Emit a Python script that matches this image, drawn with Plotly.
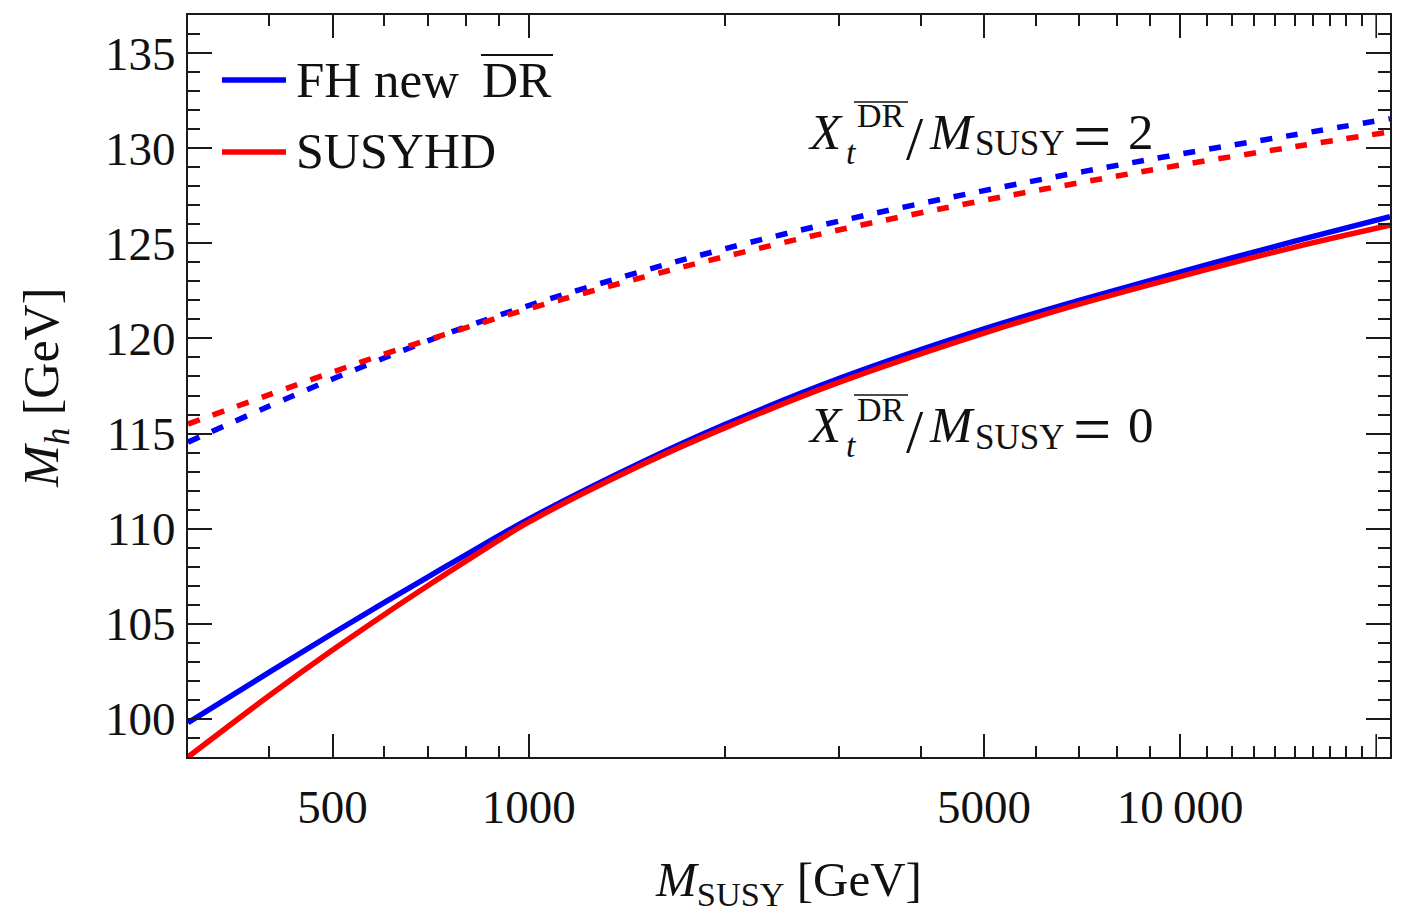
import numpy as np
import plotly.graph_objects as go

# SUSY scale grid (GeV)
m_susy = [300, 400, 500, 600, 700, 800, 1000, 1500, 2000, 3000, 5000, 7000, 10000, 15000, 21000]

# Light Higgs mass predictions (GeV)
fh_xt0 = [99.8, 102.46, 104.49, 106.11, 107.46, 108.61, 110.5, 113.53, 115.47, 117.9, 120.5, 122.0, 123.49, 125.11, 126.4]
susyhd_xt0 = [98.0, 101.23, 103.62, 105.48, 107.0, 108.28, 110.34, 113.4, 115.3, 117.7, 120.28, 121.8, 123.25, 124.8, 125.95]
fh_xt2 = [114.55, 116.45, 117.87, 118.97, 119.87, 120.6, 121.73, 123.55, 124.71, 126.17, 127.77, 128.73, 129.69, 130.71, 131.55]
susyhd_xt2 = [115.5, 117.05, 118.23, 119.17, 119.92, 120.55, 121.56, 123.22, 124.3, 125.71, 127.26, 128.18, 129.11, 130.08, 130.86]

x_major = [500, 1000, 5000, 10000]
x_major_text = ["500", "1000", "5000", "10\u2009000"]
x_minor = [400, 600, 700, 800, 900, 2000, 3000, 4000, 6000, 7000, 8000, 9000] + list(range(11000, 20000, 1000))
x_major_unlabeled = [20000]

BLUE = "#0000ff"
RED = "#ff0000"
INK = "#1a1a1a"
FONT = "Liberation Serif, Tinos, DejaVu Serif, serif"

W, H = 1408, 917
ML, MR, MT, MB = 188, 18, 15, 160
PW, PH = W - ML - MR, H - MT - MB


def px(x):
    return (x - ML) / PW


def py(y):
    return (H - MB - y) / PH


fig = go.Figure()

line_w = 5.5
dash = "12px,14px"
fig.add_trace(go.Scatter(x=m_susy, y=fh_xt2, mode="lines", line=dict(color=BLUE, width=line_w, dash=dash, shape="spline"), showlegend=False))
fig.add_trace(go.Scatter(x=m_susy, y=susyhd_xt2, mode="lines", line=dict(color=RED, width=line_w, dash=dash, shape="spline"), showlegend=False))
fig.add_trace(go.Scatter(x=m_susy, y=fh_xt0, mode="lines", line=dict(color=BLUE, width=line_w, shape="spline"), showlegend=False))
fig.add_trace(go.Scatter(x=m_susy, y=susyhd_xt0, mode="lines", line=dict(color=RED, width=line_w, shape="spline"), showlegend=False))

axis_common = dict(
    showline=True, linecolor=INK, linewidth=2, mirror="ticks",
    ticks="inside", tickcolor=INK, tickwidth=1.6,
    showgrid=False, zeroline=False,
    tickfont=dict(family=FONT, size=47, color="#111"),
)

fig.update_xaxes(
    type="log", range=[np.log10(300), np.log10(21000)],
    tickmode="array", tickvals=x_major, ticktext=x_major_text,
    ticklen=23, ticklabelstandoff=8,
    minor=dict(tickmode="array", tickvals=x_minor, ticks="inside", ticklen=11,
               tickcolor=INK, tickwidth=1.6, showgrid=False),
    **axis_common,
)
fig.update_yaxes(
    range=[98, 137], tickmode="linear", tick0=100, dtick=5,
    ticklen=24, ticklabelstandoff=1,
    minor=dict(dtick=1, tick0=100, ticks="inside", ticklen=12,
               tickcolor=INK, tickwidth=1.6, showgrid=False),
    **axis_common,
)

annotations = []
shapes = []

# long unlabeled tick at 20 000 on bottom and top frame
for xv in x_major_unlabeled:
    for anchor, sign in ((0, 1), (1, -1)):
        shapes.append(dict(type="line", xref="x", yref="paper", ysizemode="pixel",
                           yanchor=anchor, x0=xv, x1=xv, y0=0, y1=sign * 23,
                           line=dict(color=INK, width=1.6)))


def text(x, y, s, size, xanchor="left", yanchor="middle", angle=0):
    annotations.append(dict(
        x=px(x), y=py(y), xref="paper", yref="paper", text=s, showarrow=False,
        xanchor=xanchor, yanchor=yanchor, textangle=angle,
        font=dict(family=FONT, size=size, color="#111"),
    ))


def hline(x0, x1, y, color="#111", width=2):
    shapes.append(dict(type="line", xref="paper", yref="paper",
                       x0=px(x0), x1=px(x1), y0=py(y), y1=py(y),
                       line=dict(color=color, width=width)))


# legend
hline(222, 286, 80, BLUE, 5.5)
hline(222, 286, 152, RED, 5.5)
text(294, 80, "FH new", 51)
text(480, 80, "DR", 50)
hline(481, 553, 55, width=2)
text(294, 151, "SUSYHD", 50)


# X_t^DR / M_SUSY labels
def xt_label(base, value):
    text(806, base - 18, "<i>X</i>", 51)
    text(855, base - 34, "DR", 34)
    hline(854, 908, base - 48, width=1.6)
    text(844, base + 2, "<i>t</i>", 34)
    text(904, base - 12, "/", 62)
    text(927, base - 18, "<i>M</i>", 51)
    text(973, base - 6, "SUSY", 35)
    text(1071, base - 14, "=", 68)
    text(1126, base - 18, value, 51)


xt_label(150, "2")
xt_label(443, "0")

# axis titles
text(788, 882, "<i>M</i><sub>SUSY</sub> [GeV]", 49, xanchor="center")
text(45, 388, "<i>M<sub>h</sub></i> [GeV]", 50, xanchor="center", angle=-90)

fig.update_layout(
    width=W, height=H,
    margin=dict(l=ML, r=MR, t=MT, b=MB, autoexpand=False),
    paper_bgcolor="white", plot_bgcolor="white",
    annotations=annotations, shapes=shapes,
    showlegend=False,
)

fig.write_html("out.html")
